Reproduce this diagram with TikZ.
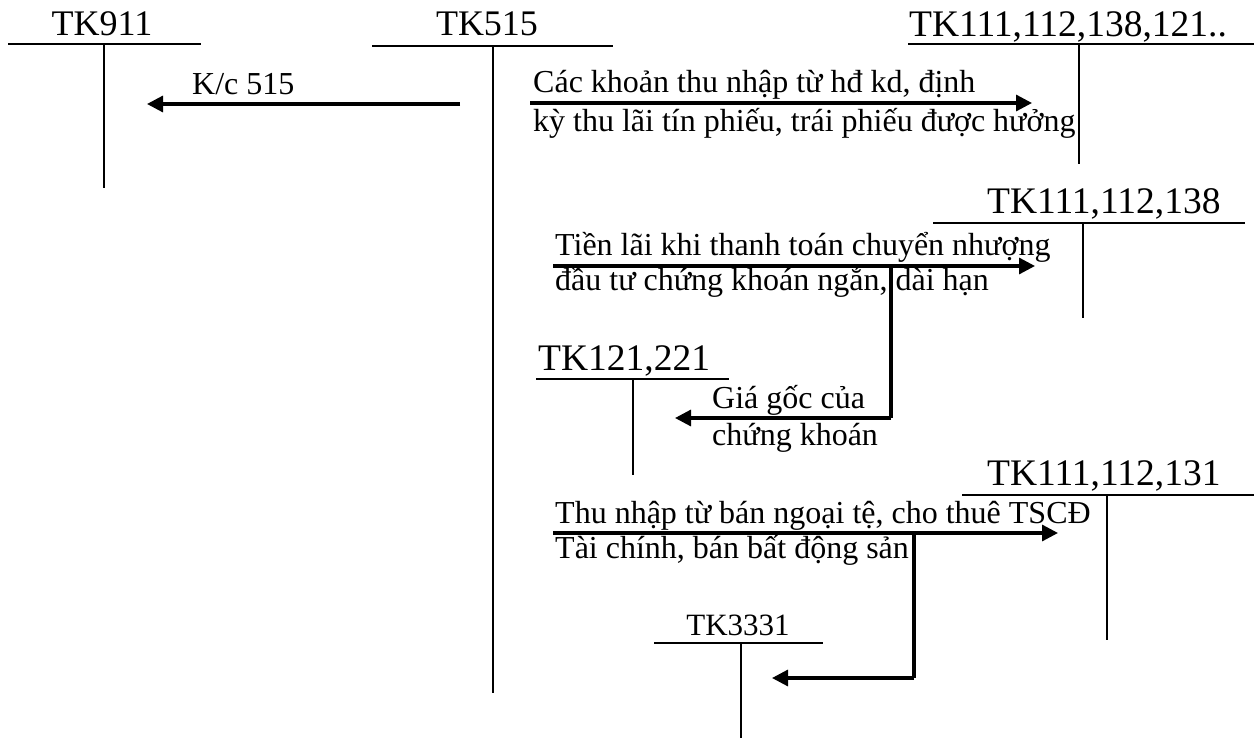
\documentclass[tikz,border=0pt]{standalone}
\usepackage{fontspec}
\setmainfont{Liberation Serif}
\usetikzlibrary{arrows.meta}
\begin{document}
\begin{tikzpicture}[x=1pt,y=-1pt,
  tline/.style={line width=2pt},
  flow/.style={line width=3.2pt,-{Triangle[length=16pt,width=16pt]}},
  flowline/.style={line width=3.2pt},
  acc/.style={font=\fontsize{36}{36}\selectfont,anchor=base,inner sep=0pt},
  accbig/.style={font=\fontsize{37.5}{37.5}\selectfont,anchor=base west,inner sep=0pt},
  accsmall/.style={font=\fontsize{31}{31}\selectfont,anchor=base,inner sep=0pt},
  txt/.style={font=\fontsize{32}{32}\selectfont,anchor=base west,inner sep=0pt}]
\useasboundingbox (0,0) rectangle (1258,738);

\node(t911)[acc] at (102, 36) {TK911};
\node(t515)[acc] at (487, 36) {TK515};
\node(t111a)[accbig] at (909, 37) {TK111,112,138,121..};
\node(t111b)[accbig] at (987, 214) {TK111,112,138};
\node(t121)[accbig] at (538, 370) {TK121,221};
\node(t111c)[accbig] at (987, 485) {TK111,112,131};
\node(t3331)[accsmall] at (738, 635) {TK3331};

\coordinate(j911) at (104, 44);
\coordinate(j515) at (493, 46);
\coordinate(j111a) at (1079, 44);
\coordinate(j111b) at (1083, 223);
\coordinate(j121) at (633, 379);
\coordinate(j111c) at (1107, 495);
\coordinate(j3331) at (741, 643);

\draw[tline] (8, 44) -- (201, 44);
\draw[tline] (j911) -- ++(0, 144);
\draw[tline] (372, 46) -- (613, 46);
\draw[tline] (j515) -- ++(0, 647);
\draw[tline] (908, 44) -- (1254, 44);
\draw[tline] (j111a) -- ++(0, 120);
\draw[tline] (933, 223) -- (1245, 223);
\draw[tline] (j111b) -- ++(0, 95);
\draw[tline] (536, 379) -- (729, 379);
\draw[tline] (j121) -- ++(0, 96);
\draw[tline] (962, 495) -- (1254, 495);
\draw[tline] (j111c) -- ++(0, 145);
\draw[tline] (654, 643) -- (823, 643);
\draw[tline] (j3331) -- ++(0, 95);

\coordinate(kc1) at (460, 104);
\coordinate(kc2) at (147, 104);
\draw[flow] (kc1) -- (kc2);
\node(lkc)[txt] at (192, 95) {K/c 515};

\coordinate(a1) at (530, 103);
\coordinate(a2) at (1032, 103);
\draw[flow] (a1) -- (a2);
\node(la1)[txt] at (533, 93) {Các khoản thu nhập từ hđ kd, định};
\node(la2)[txt] at (533, 132) {kỳ thu lãi tín phiếu, trái phiếu được hưởng};

\coordinate(b1) at (553, 266);
\coordinate(b2) at (1035, 266);
\coordinate(b3) at (891, 266);
\coordinate(b4) at (891, 418);
\coordinate(b5) at (675, 418);
\draw[flow] (b1) -- (b2);
\draw[flowline] (b3) -- (b4);
\draw[flow] (b4) -- (b5);
\node(lb1)[txt] at (555, 255) {Tiền lãi khi thanh toán chuyển nhượng};
\node(lb2)[txt] at (555, 290) {đầu tư chứng khoán ngắn, dài hạn};
\node(lb3)[txt] at (712, 408) {Giá gốc của};
\node(lb4)[txt] at (712, 445) {chứng khoán};

\coordinate(c1) at (553, 533);
\coordinate(c2) at (1058, 533);
\coordinate(c3) at (914, 533);
\coordinate(c4) at (914, 678);
\coordinate(c5) at (772, 678);
\draw[flow] (c1) -- (c2);
\draw[flowline] (c3) -- (c4);
\draw[flow] (c4) -- (c5);
\node(lc1)[txt] at (555, 523) {Thu nhập từ bán ngoại tệ, cho thuê TSCĐ};
\node(lc2)[txt] at (555, 558) {Tài chính, bán bất động sản};
\end{tikzpicture}
\end{document}
